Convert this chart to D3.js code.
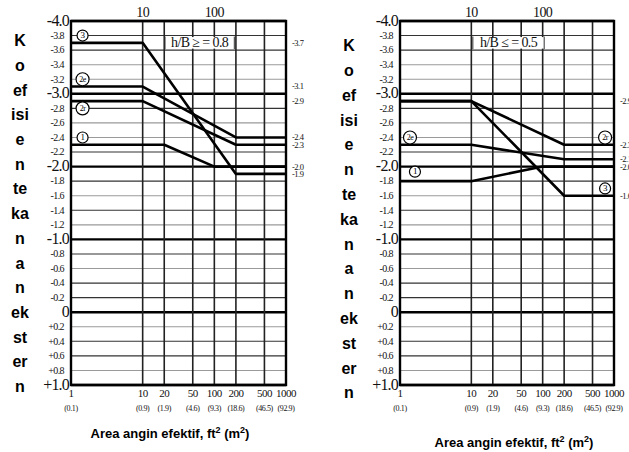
<!DOCTYPE html>
<html><head><meta charset="utf-8">
<script src="https://cdn.jsdelivr.net/npm/d3@7"></script>
<style>body{margin:0;background:#fff} svg{display:block}</style>
</head><body><svg id="c" width="629" height="452"></svg>
<script>
// ---------- data ----------
const xTickValues = [1, 10, 20, 50, 100, 200, 500, 1000];
const xTickFt = ["1", "10", "20", "50", "100", "200", "500", "1000"];
const xTickMetric = ["(0.1)", "(0.9)", "(1.9)", "(4.6)", "(9.3)", "(18.6)", "(46.5)", "(92.9)"];
const xTopTicks = [10, 100];
const xGridValues = [10, 20, 50, 100, 200, 500];
const yTickValues = [-4.0, -3.8, -3.6, -3.4, -3.2, -3.0, -2.8, -2.6, -2.4, -2.2, -2.0, -1.8, -1.6, -1.4, -1.2, -1.0, -0.8, -0.6, -0.4, -0.2, 0, 0.2, 0.4, 0.6, 0.8, 1.0];
const yTickLabels = ["-4.0", "-3.8", "-3.6", "-3.4", "-3.2", "-3.0", "-2.8", "-2.6", "-2.4", "-2.2", "-2.0", "-1.8", "-1.6", "-1.4", "-1.2", "-1.0", "-0.8", "-0.6", "-0.4", "-0.2", "0", "+0.2", "+0.4", "+0.6", "+0.8", "+1.0"];
const yMajorValues = [-4, -3, -2, -1, 0, 1];
const yTitleLines = ["K", "o", "ef", "isi", "e", "n", "te", "ka", "n", "a", "n", "ek", "st", "er", "n"];

// left panel: h/B >= 0.8
const leftCondition = "h/B ≥ = 0.8";
const leftBreaksA = [1, 10, 200, 1000];
const leftBreaks1 = [1, 20, 100, 1000];
const leftZone3 = [-3.7, -3.7, -1.9, -1.9];
const leftZone2e = [-3.1, -3.1, -2.4, -2.4];
const leftZone2r = [-2.9, -2.9, -2.3, -2.3];
const leftZone1 = [-2.3, -2.3, -2.0, -2.0];
const leftEndValues = [-3.7, -3.1, -2.9, -2.4, -2.3, -2.0, -1.9];
const leftEndLabels = ["-3.7", "-3.1", "-2.9", "-2.4", "-2.3", "-2.0", "-1.9"];
const leftMarkText = ["3", "2e", "2r", "1"];
const leftMarkX = [1.45, 1.45, 1.45, 1.45];
const leftMarkY = [-3.8, -3.2, -2.8, -2.4];

// right panel: h/B <= 0.5
const rightCondition = "h/B ≤ = 0.5";
const rightBreaksA = [1, 10, 200, 1000];
const rightBreaks1 = [1, 10, 100, 1000];
const rightZone3 = [-2.9, -2.9, -1.6, -1.6];
const rightZone2r = [-2.9, -2.9, -2.3, -2.3];
const rightZone2e = [-2.3, -2.3, -2.1, -2.1];
const rightZone1 = [-1.8, -1.8, -2.0, -2.0];
const rightEndValues = [-2.9, -2.3, -2.1, -2.0, -1.6];
const rightEndLabels = ["-2.9", "-2.3", "-2.1", "-2.0", "-1.6"];
const rightMarkText = ["2e", "2r", "1", "3"];
const rightMarkX = [1.38, 750, 1.62, 750];
const rightMarkY = [-2.4, -2.4, -1.93, -1.7];

// ---------- drawing ----------
const svg = d3.select("#c");
svg.append("rect").attr("width", 629).attr("height", 452).attr("fill", "#fff");
const lightMinor = new Set([-3.4, -3.2, -2.6, -2.4, -1.6, -1.2, -0.6, 0.2, 0.8]);
const numFont = "'Liberation Serif', 'DejaVu Serif', serif";
const isMajor = d => yMajorValues.some(m => Math.abs(m - d) < 1e-9);

function drawPanel(p) {
  const x = d3.scaleLog().domain([1, 1000]).range([p.x0, p.x1]);
  const y = d3.scaleLinear().domain([-4, 1]).range([21, 385]);
  const g = svg.append("g");

  // horizontal grid lines
  g.selectAll(".hg").data(yTickValues).join("line")
    .attr("x1", x(1)).attr("x2", x(1000))
    .attr("y1", d => y(d)).attr("y2", d => y(d))
    .attr("stroke", d => isMajor(d) ? "#000" : (lightMinor.has(Math.round(d * 10) / 10) ? "#9a9a9a" : "#333"))
    .attr("stroke-width", d => isMajor(d) ? 2.4 : 1.1);

  // vertical grid lines
  g.selectAll(".vg").data(xGridValues).join("line")
    .attr("x1", d => x(d)).attr("x2", d => x(d))
    .attr("y1", y(-4)).attr("y2", y(1))
    .attr("stroke", "#222").attr("stroke-width", 1.6);
  // frame
  g.append("rect").attr("x", x(1)).attr("y", y(-4))
    .attr("width", x(1000) - x(1)).attr("height", y(1) - y(-4))
    .attr("fill", "none").attr("stroke", "#000").attr("stroke-width", 2.4);

  // y tick labels
  g.selectAll(".yl").data(yTickValues).join("text")
    .attr("x", d => isMajor(d) ? x(1) - 2 : x(1) - 7)
    .attr("y", d => y(d) + 1)
    .attr("text-anchor", "end").attr("dominant-baseline", "middle")
    .attr("font-family", numFont).attr("fill", "#111")
    .attr("font-size", d => isMajor(d) ? 16 : 10)
    .attr("letter-spacing", d => isMajor(d) ? -0.8 : -0.6)
    .text((d, i) => yTickLabels[i]);

  // bottom x labels
  g.selectAll(".xl").data(xTickValues).join("text")
    .attr("x", d => x(d)).attr("y", 397)
    .attr("text-anchor", "middle").attr("font-family", numFont).attr("fill", "#111")
    .attr("font-size", 11).attr("letter-spacing", -0.5)
    .text((d, i) => xTickFt[i]);
  g.selectAll(".xm").data(xTickValues).join("text")
    .attr("x", d => x(d)).attr("y", 411)
    .attr("text-anchor", "middle").attr("font-family", numFont).attr("fill", "#111")
    .attr("font-size", 8).attr("letter-spacing", -0.4)
    .text((d, i) => xTickMetric[i]);
  // top x labels
  g.selectAll(".xt").data(xTopTicks).join("text")
    .attr("x", d => x(d)).attr("y", 17)
    .attr("text-anchor", "middle").attr("font-family", numFont).attr("fill", "#111")
    .attr("font-size", 14).attr("letter-spacing", -0.6)
    .text(d => d);

  // condition label
  const cx0 = x(p.condFrom), cx1 = x(p.condTo);
  g.append("rect").attr("x", cx0).attr("y", y(-3.8) + 1.5)
    .attr("width", cx1 - cx0).attr("height", y(-3.6) - y(-3.8) - 3).attr("fill", "#fff");
  g.append("line").attr("x1", cx0).attr("x2", cx0).attr("y1", y(-3.8) + 1).attr("y2", y(-3.6) - 1).attr("stroke", "#333").attr("stroke-width", 1);
  g.append("line").attr("x1", cx1).attr("x2", cx1).attr("y1", y(-3.8) + 1).attr("y2", y(-3.6) - 1).attr("stroke", "#333").attr("stroke-width", 1);
  g.append("text").attr("x", (cx0 + cx1) / 2).attr("y", (y(-3.8) + y(-3.6)) / 2 + 1)
    .attr("text-anchor", "middle").attr("dominant-baseline", "middle")
    .attr("font-family", numFont).attr("font-size", 14).attr("letter-spacing", -0.6).attr("fill", "#111")
    .text(p.cond);

  // zone lines
  const line = d3.line().x(d => x(d[0])).y(d => y(d[1]));
  p.series.forEach(s => {
    g.append("path").datum(s.xs.map((v, i) => [v, s.ys[i]]))
      .attr("d", line).attr("fill", "none").attr("stroke", "#000")
      .attr("stroke-width", 2.6).attr("stroke-linejoin", "round");
  });

  // zone markers
  p.markText.forEach((t, i) => {
    const mx = x(p.markX[i]), my = y(p.markY[i]);
    g.append("circle").attr("cx", mx).attr("cy", my).attr("r", t.length > 1 ? 6.5 : 5.5)
      .attr("fill", "#fff").attr("stroke", "#000").attr("stroke-width", 1.2);
    g.append("text").attr("x", mx).attr("y", my + 0.5)
      .attr("text-anchor", "middle").attr("dominant-baseline", "middle")
      .attr("font-family", numFont).attr("font-size", t.length > 1 ? 8 : 9).attr("letter-spacing", -0.5)
      .text(t);
  });

  // right-end value labels
  g.selectAll(".el").data(p.endValues).join("text")
    .attr("x", x(1000) + 6).attr("y", d => y(d) + 1)
    .attr("dominant-baseline", "middle").attr("font-family", numFont).attr("fill", "#111")
    .attr("font-size", 8.5).attr("letter-spacing", -0.5)
    .text((d, i) => p.endLabels[i]);

  // y title (stacked)
  g.selectAll(".yt").data(yTitleLines).join("text")
    .attr("x", p.titleX).attr("y", (d, i) => p.titleY0 + i * p.titleStep)
    .attr("text-anchor", "middle").attr("dominant-baseline", "middle")
    .attr("font-family", "'Liberation Sans', Arial, sans-serif").attr("font-weight", "bold")
    .attr("font-size", 16).text(d => d);

  // x title
  const xt = g.append("text").attr("x", p.xTitleX).attr("y", p.xTitleY)
    .attr("text-anchor", "middle")
    .attr("font-family", "'Liberation Sans', Arial, sans-serif").attr("font-weight", "bold")
    .attr("font-size", 13);
  xt.append("tspan").text("Area angin efektif, ft");
  xt.append("tspan").attr("dy", -5).attr("font-size", 9).text("2");
  xt.append("tspan").attr("dy", 5).text(" (m");
  xt.append("tspan").attr("dy", -5).attr("font-size", 9).text("2");
  xt.append("tspan").attr("dy", 5).text(")");
}

drawPanel({
  x0: 71, x1: 286, cond: leftCondition, condFrom: 20.5, condTo: 190,
  series: [
    {xs: leftBreaksA, ys: leftZone3}, {xs: leftBreaksA, ys: leftZone2e},
    {xs: leftBreaksA, ys: leftZone2r}, {xs: leftBreaks1, ys: leftZone1}
  ],
  markText: leftMarkText, markX: leftMarkX, markY: leftMarkY,
  endValues: leftEndValues, endLabels: leftEndLabels,
  titleX: 20, titleY0: 42, titleStep: 24.7, xTitleX: 170, xTitleY: 438
});
drawPanel({
  x0: 400, x1: 614, cond: rightCondition, condFrom: 10.5, condTo: 105,
  series: [
    {xs: rightBreaksA, ys: rightZone3}, {xs: rightBreaksA, ys: rightZone2r},
    {xs: rightBreaksA, ys: rightZone2e}, {xs: rightBreaks1, ys: rightZone1}
  ],
  markText: rightMarkText, markX: rightMarkX, markY: rightMarkY,
  endValues: rightEndValues, endLabels: rightEndLabels,
  titleX: 349, titleY0: 47, titleStep: 24.8, xTitleX: 514, xTitleY: 447
});
</script></body></html>
